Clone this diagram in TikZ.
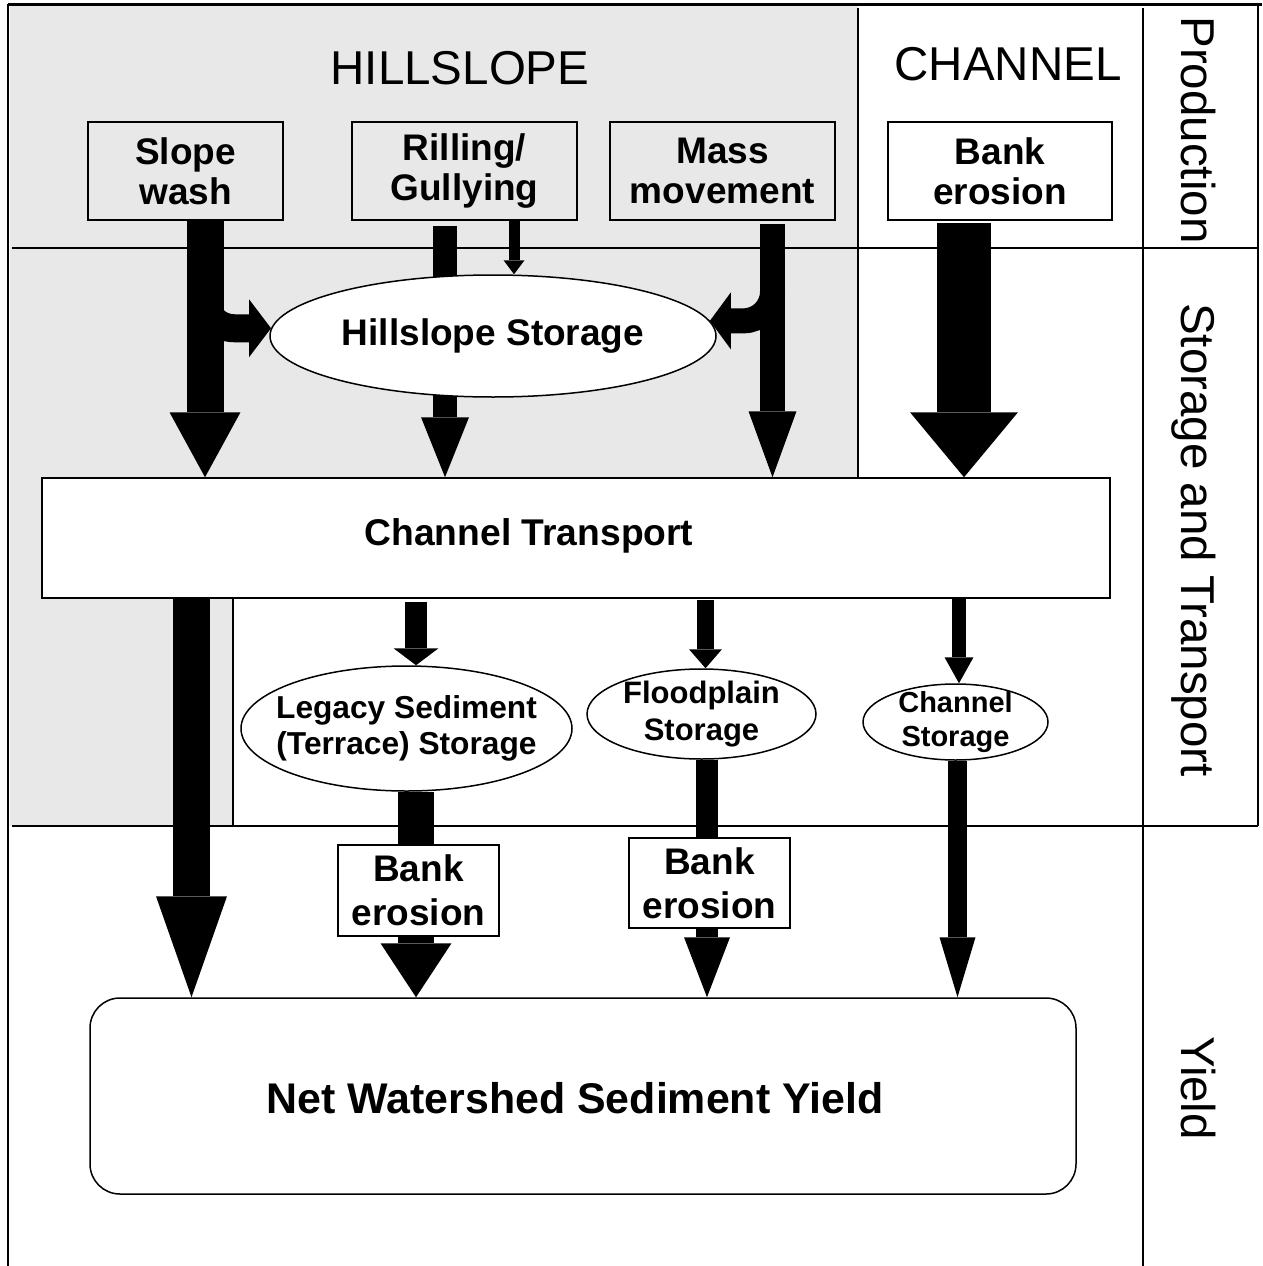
\documentclass[tikz,border=0pt]{standalone}
\usepackage{fontspec}
\setmainfont{Liberation Sans}
\usetikzlibrary{arrows.meta, calc, shapes.geometric}
\definecolor{hillgrey}{HTML}{E8E8E8}
\pgfdeclarelayer{back}
\pgfdeclarelayer{flowlayer}
\pgfsetlayers{back,flowlayer,main}

\begin{document}
\begin{tikzpicture}[
    x=1pt, y=-1pt,
    gridline/.style={draw=black, line width=1.5pt},
    zonelabel/.style={font=\fontsize{47.5}{57}\selectfont},
    sidelabel/.style={font=\fontsize{47.5}{57}\selectfont, rotate=-90, anchor=base},
    source/.style={rectangle, draw, line width=1.5pt, align=center, inner sep=0pt, minimum height=98pt, font=\bfseries\fontsize{37}{40}\selectfont},
    storage/.style={ellipse, draw, fill=white, line width=1.5pt, align=center, inner sep=0pt},
    fatarrow/.style n args={3}{draw=black, line width=#1, -{Triangle[width=#2, length=#3, line width=0pt]}}
]
\useasboundingbox (0,0) rectangle (1262,1266);

% zones and grid
\begin{pgfonlayer}{back}
\fill[hillgrey] (10,6) -- (858,6) -- (858,478) -- (233,478) -- (233,826) -- (10,826) -- cycle;
\draw[line width=3pt] (8,4) -- (1262,4);
\draw[gridline] (8,4) -- (8,1266);
\draw[gridline] (1258,4) -- (1258,826);
\draw[gridline] (1143,8) -- (1143,1266);
\draw[gridline] (12,248) -- (1258,248);
\draw[gridline] (12,826) -- (1258,826);
\draw[gridline] (858,8) -- (858,478);
\draw[gridline] (233,598) -- (233,826);
\end{pgfonlayer}

\node[zonelabel] (hill) at (460,68) {HILLSLOPE};
\node[zonelabel] (chan) at (1008,64) {CHANNEL};
\node[sidelabel] (prod) at (1181,130) {Production};
\node[sidelabel] (stor) at (1181,540) {Storage and Transport};
\node[sidelabel] (yld) at (1181,1088) {Yield};

\node[source, minimum width=195pt] (sw) at (185.5,171) {Slope\\wash};
\node[source, minimum width=225pt] (rg) at (464.5,171) {Rilling/\\Gullying};
\node[source, minimum width=225pt] (mm) at (722.5,171) {Mass\\movement};
\node[source, fill=white, minimum width=224pt] (be) at (1000,171) {Bank\\erosion};

\node[storage, minimum width=446pt, minimum height=122pt, font=\bfseries\fontsize{37}{40}\selectfont] (hs) at (493,336) {Hillslope Storage};

\node[rectangle, draw, fill=white, line width=1.5pt, minimum width=1068pt, minimum height=120pt] (ct) at (576,538) {};
\node[font=\bfseries\fontsize{37.2}{40}\selectfont] (ctname) at (529,536) {Channel Transport};

\node[storage, inner xsep=-15pt, minimum width=331pt, minimum height=125pt, font=\bfseries\fontsize{31.7}{36}\selectfont] (lg) at (406.5,728.5) {Legacy Sediment\\(Terrace) Storage};
\node[storage, inner ysep=-3pt, minimum width=229pt, minimum height=90pt, font=\bfseries\fontsize{31}{37}\selectfont] (fp) at (701.5,714) {Floodplain\\Storage};
\node[storage, inner ysep=-7pt, minimum width=185pt, minimum height=76pt, font=\bfseries\fontsize{29}{34}\selectfont] (cs) at (955.5,722) {Channel\\Storage};

\node[source, fill=white, minimum width=161pt, minimum height=91pt, font=\bfseries\fontsize{37}{44}\selectfont] (b1) at (418.5,890.5) {Bank\\erosion};
\node[source, fill=white, minimum width=161pt, minimum height=90pt, font=\bfseries\fontsize{37}{44}\selectfont] (b2) at (709.5,883) {Bank\\erosion};

\node[rectangle, draw, fill=white, line width=1.5pt, rounded corners=30pt, minimum width=986pt, minimum height=196pt] (nw) at (583,1096) {};
\node[font=\bfseries\fontsize{42.9}{48}\selectfont] (nwname) at (575,1098) {Net Watershed Sediment Yield};

% sediment flows
\begin{pgfonlayer}{flowlayer}
\coordinate (swout) at ($(sw.south)+(19.5,0)$);
\coordinate (rgout) at ($(rg.south)+(-19.5,5)$);
\coordinate (rgtop) at ($(rg.south)+(49.5,0)$);
\coordinate (mmout) at ($(mm.south)+(50,3)$);
\coordinate (beout) at ($(be.south)+(-36,2)$);
\draw[fatarrow={37pt}{71pt}{65pt}] (swout) -- (swout |- ct.north);
\draw[fatarrow={28pt}{58pt}{22pt}, rounded corners=29pt] ($(swout)+(0,78)$) |- (hs.178);
\draw[fatarrow={24pt}{48pt}{60pt}] (rgout) -- (rgout |- ct.north);
\draw[fatarrow={11pt}{21pt}{14pt}] (rgtop) -- (rgtop |- hs.north);
\draw[fatarrow={25pt}{48pt}{66pt}] (mmout) -- (mmout |- ct.north);
\draw[fatarrow={25pt}{57pt}{21pt}, rounded corners=29pt] ($(mmout)+(0,68)$) |- (hs.4);
\draw[fatarrow={54pt}{108pt}{65pt}] (beout) -- (beout |- ct.north);

\coordinate (ctl) at ($(ct.south)+(-384.5,0)$);
\coordinate (ctlg) at ($(ct.south)+(-160,3)$);
\coordinate (ctfp) at ($(ct.south)+(129.5,1)$);
\coordinate (ctcs) at ($(ct.south)+(383,-5)$);
\draw[fatarrow={37pt}{71pt}{101pt}] (ctl) -- (ctl |- nw.north);
\draw[fatarrow={22pt}{45pt}{17pt}] (ctlg) -- (ctlg |- lg.north);
\draw[fatarrow={17pt}{33pt}{19pt}] (ctfp) -- (ctfp |- fp.north);
\draw[fatarrow={14pt}{29pt}{26pt}] (ctcs) -- (ctcs |- cs.north);

\coordinate (lgout) at ($(lg.south)+(9.5,0)$);
\coordinate (fpout) at ($(fp.south)+(5.5,0)$);
\coordinate (csout) at ($(cs.south)+(2,0)$);
\draw[fatarrow={36pt}{71pt}{54pt}] (lgout) -- (lgout |- nw.north);
\draw[fatarrow={22pt}{46pt}{60pt}] (fpout) -- (fpout |- nw.north);
\draw[fatarrow={19pt}{36pt}{60pt}] (csout) -- (csout |- nw.north);
\end{pgfonlayer}
\end{tikzpicture}
\end{document}
